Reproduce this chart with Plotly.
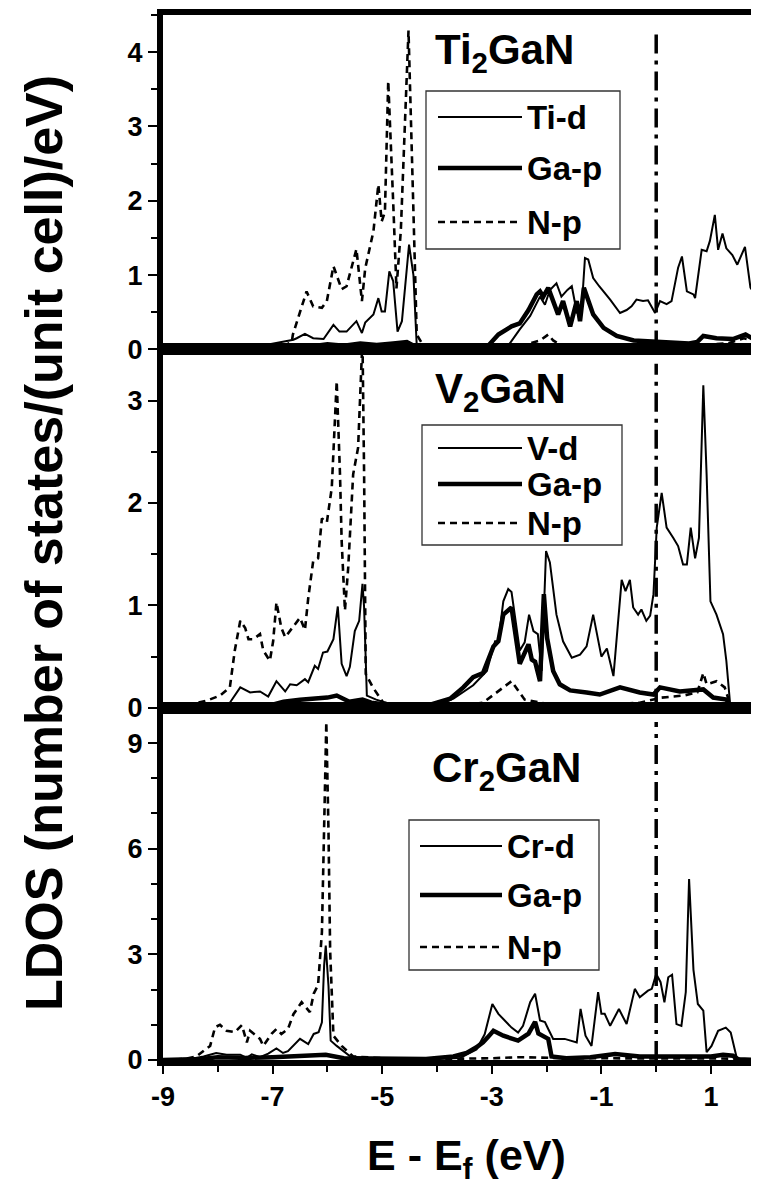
import plotly.graph_objects as go

# ---------------- data ----------------
# Ti2GaN
ti_d_E = [-9.0, -8.0, -7.5, -7.2, -6.9, -6.62, -6.56, -6.41, -6.26, -6.07, -5.89, -5.78, -5.65, -5.47, -5.37, -5.31,
          -5.16, -5.07, -5.01, -4.95, -4.87, -4.80, -4.72, -4.64, -4.51, -4.43, -4.37, -4.2, -3.8, -3.2, -2.73, -2.49,
          -2.30, -2.12, -2.03, -1.94, -1.82, -1.73, -1.62, -1.54, -1.45, -1.36, -1.30, -1.24, -1.15, -1.04, -0.84,
          -0.66, -0.54, -0.45, -0.36, -0.24, -0.15, -0.02, 0.07, 0.19, 0.28, 0.40, 0.47, 0.56, 0.68, 0.71, 0.83,
          0.92, 0.98, 1.07, 1.13, 1.21, 1.28, 1.39, 1.48, 1.62, 1.72, 1.77, 1.876]
ti_d_dos = [0.0, 0.01, 0.02, 0.05, 0.09, 0.13, 0.15, 0.21, 0.15, 0.14, 0.33, 0.24, 0.24, 0.38, 0.22, 0.36,
            0.47, 0.69, 0.51, 0.51, 1.05, 0.92, 0.24, 0.38, 1.41, 1.0, 0.06, 0.02, 0.01, 0.01, 0.02, 0.27,
            0.45, 0.71, 0.60, 0.80, 0.89, 0.71, 0.80, 0.85, 0.50, 0.55, 1.23, 1.21, 0.96, 0.85, 0.67,
            0.49, 0.53, 0.58, 0.67, 0.65, 0.66, 0.49, 0.65, 0.61, 0.65, 1.10, 1.25, 0.78, 0.74, 0.69, 1.34,
            1.32, 1.46, 1.81, 1.34, 1.56, 1.36, 1.27, 1.14, 1.38, 0.83, 0.78, 0.25]

ti_ga_E = [-9.0, -8.0, -7.0, -6.6, -6.3, -6.0, -5.7, -5.4, -5.1, -4.8, -4.55, -4.4, -4.2, -3.6, -3.09, -2.88,
           -2.64, -2.49, -2.33, -2.18, -2.12, -2.06, -1.97, -1.88, -1.79, -1.70, -1.57, -1.45, -1.39, -1.32, -1.28,
           -1.15, -0.96, -0.72, -0.41, -0.05, 0.3, 0.6, 0.75, 0.86, 1.1, 1.4, 1.63, 1.876]
ti_ga_dos = [0.0, 0.01, 0.02, 0.05, 0.04, 0.07, 0.05, 0.08, 0.06, 0.08, 0.10, 0.04, 0.01, 0.01, 0.03, 0.20,
             0.31, 0.35, 0.53, 0.74, 0.78, 0.71, 0.83, 0.65, 0.47, 0.65, 0.31, 0.65, 0.38, 0.83, 0.75,
             0.47, 0.29, 0.18, 0.12, 0.11, 0.10, 0.08, 0.10, 0.18, 0.15, 0.14, 0.20, 0.10]

ti_np_E = [-9.0, -7.5, -6.8, -6.65, -6.63, -6.38, -6.26, -6.10, -6.01, -5.89, -5.74, -5.65, -5.47, -5.37, -5.31,
           -5.16, -5.07, -5.01, -4.95, -4.89, -4.80, -4.74, -4.66, -4.58, -4.52, -4.43, -4.37, -4.25, -3.5, -2.8,
           -2.46, -2.12, -1.97, -1.88, -1.7, -1.2, -0.5, 0.0, 0.5, 0.9, 1.3, 1.6, 1.876]
ti_np_dos = [0.0, 0.01, 0.05, 0.10, 0.20, 0.78, 0.58, 0.56, 0.65, 1.12, 0.81, 0.85, 1.35, 0.65, 1.09,
             1.59, 2.22, 1.72, 1.85, 3.61, 1.99, 0.82, 1.6, 3.0, 4.29, 1.86, 0.20, 0.05, 0.01, 0.02,
             0.05, 0.12, 0.20, 0.12, 0.04, 0.03, 0.02, 0.03, 0.05, 0.06, 0.08, 0.15, 0.10]

# V2GaN
v_d_E = [-9.0, -8.2, -7.78, -7.59, -7.41, -7.23, -7.08, -6.93, -6.77, -6.68, -6.56, -6.41, -6.35, -6.23, -6.17,
         -6.08, -6.0, -5.89, -5.81, -5.74, -5.65, -5.59, -5.50, -5.42, -5.36, -5.33, -5.28, -5.11, -4.93, -4.5,
         -4.0, -3.70, -3.34, -3.09, -2.94, -2.88, -2.79, -2.70, -2.64, -2.49, -2.40, -2.32, -2.24, -2.16, -2.09,
         -2.01, -1.94, -1.82, -1.70, -1.54, -1.39, -1.27, -1.15, -1.06, -1.00, -0.90, -0.78, -0.63, -0.56, -0.48,
         -0.42, -0.33, -0.27, -0.18, -0.11, -0.05, 0.01, 0.10, 0.19, 0.31, 0.40, 0.49, 0.56, 0.63, 0.71, 0.78,
         0.86, 0.92, 0.99, 1.10, 1.22, 1.28, 1.35, 1.5, 1.876]
v_d_dos = [0.0, 0.01, 0.05, 0.20, 0.15, 0.16, 0.11, 0.26, 0.16, 0.23, 0.22, 0.28, 0.25, 0.41, 0.38,
           0.54, 0.55, 0.67, 0.99, 0.43, 0.31, 0.40, 0.75, 0.85, 1.21, 0.98, 0.12, 0.08, 0.05, 0.03,
           0.02, 0.09, 0.22, 0.36, 0.65, 0.65, 1.04, 1.16, 1.13, 0.56, 0.64, 0.91, 0.75, 0.72, 0.36,
           1.53, 1.42, 0.91, 0.65, 0.49, 0.52, 0.60, 0.91, 0.65, 0.50, 0.58, 0.31, 1.25, 1.14, 1.25,
           0.98, 0.91, 0.96, 0.85, 0.90, 1.11, 1.76, 2.10, 1.76, 1.66, 1.58, 1.40, 1.40, 1.76, 1.46, 1.66,
           3.15, 2.28, 1.04, 0.91, 0.72, 0.46, 0.03, 0.0, 0.0]

v_ga_E = [-9.0, -8.0, -7.5, -7.0, -6.8, -6.5, -6.2, -6.0, -5.83, -5.6, -5.36, -5.2, -4.9, -4.2, -3.76, -3.52,
          -3.34, -3.16, -2.97, -2.88, -2.79, -2.64, -2.49, -2.33, -2.27, -2.21, -2.12, -2.05, -1.99, -1.88, -1.76,
          -1.57, -1.27, -1.03, -0.66, -0.30, -0.05, 0.07, 0.43, 0.86, 1.04, 1.28, 1.34, 1.5, 1.876]
v_ga_dos = [0.0, 0.01, 0.01, 0.03, 0.06, 0.08, 0.09, 0.10, 0.12, 0.06, 0.08, 0.05, 0.03, 0.02, 0.09, 0.20,
            0.30, 0.34, 0.60, 0.65, 0.91, 0.98, 0.43, 0.62, 0.47, 0.45, 0.26, 1.11, 0.68, 0.36, 0.23,
            0.17, 0.15, 0.13, 0.20, 0.15, 0.13, 0.20, 0.16, 0.18, 0.10, 0.08, 0.02, 0.0, 0.0]

v_np_E = [-9.0, -8.6, -8.2, -7.96, -7.78, -7.69, -7.59, -7.50, -7.44, -7.35, -7.23, -7.17, -7.05, -6.99, -6.93,
          -6.84, -6.77, -6.65, -6.50, -6.41, -6.35, -6.26, -6.17, -6.10, -6.01, -5.92, -5.83, -5.77, -5.74, -5.68,
          -5.62, -5.53, -5.44, -5.36, -5.33, -5.30, -5.17, -4.98, -4.5, -3.6, -3.16, -2.64, -2.4, -2.0, -1.0, -0.3,
          0.1, 0.5, 0.75, 0.86, 0.92, 1.1, 1.25, 1.34, 1.5, 1.876]
v_np_dos = [0.0, 0.02, 0.07, 0.12, 0.20, 0.56, 0.85, 0.78, 0.67, 0.67, 0.72, 0.56, 0.46, 0.65, 1.03,
            0.78, 0.69, 0.77, 0.88, 0.76, 1.07, 1.43, 1.46, 1.85, 1.81, 2.15, 3.19, 2.28, 1.63, 0.95,
            1.37, 2.28, 2.54, 3.60, 2.28, 0.33, 0.20, 0.05, 0.02, 0.02, 0.05, 0.26, 0.08, 0.04, 0.03, 0.05,
            0.10, 0.12, 0.15, 0.34, 0.23, 0.26, 0.20, 0.05, 0.0, 0.0]

# Cr2GaN
cr_d_E = [-9.0, -8.5, -8.26, -8.03, -7.84, -7.59, -7.47, -7.38, -7.23, -7.08, -6.93, -6.81, -6.72, -6.50, -6.35,
          -6.25, -6.16, -6.10, -6.06, -6.03, -5.98, -5.94, -5.83, -5.58, -5.0, -4.2, -3.58, -3.28, -3.13, -2.99,
          -2.88, -2.76, -2.64, -2.52, -2.43, -2.30, -2.21, -2.12, -2.03, -1.97, -1.88, -1.67, -1.45, -1.38, -1.29,
          -1.18, -1.06, -1.00, -0.94, -0.84, -0.68, -0.54, -0.39, -0.30, -0.15, -0.08, 0.0, 0.08, 0.15, 0.22,
          0.29, 0.37, 0.46, 0.54, 0.60, 0.68, 0.76, 0.86, 0.92, 1.01, 1.13, 1.27, 1.36, 1.47, 1.6, 1.876]
cr_d_dos = [0.0, 0.03, 0.10, 0.20, 0.15, 0.15, 0.06, 0.16, 0.08, 0.18, 0.33, 0.20, 0.25, 0.60, 0.45,
            0.74, 0.79, 1.07, 2.68, 3.25, 2.10, 0.55, 0.40, 0.10, 0.03, 0.02, 0.06, 0.30, 0.73, 1.59,
            1.31, 1.12, 0.92, 0.78, 0.97, 1.64, 1.88, 1.12, 1.08, 0.88, 0.60, 0.60, 0.50, 1.45, 0.69,
            0.40, 1.93, 1.31, 1.31, 0.97, 1.45, 1.02, 2.02, 1.78, 1.97, 2.02, 2.44, 2.21, 1.64, 2.35,
            2.42, 1.02, 0.97, 1.93, 5.14, 2.56, 1.59, 1.40, 0.22, 0.40, 0.83, 0.92, 0.78, 0.06, 0.0, 0.0]

cr_ga_E = [-9.0, -8.3, -8.0, -7.5, -7.0, -6.5, -6.03, -5.7, -5.0, -4.2, -3.70, -3.46, -3.28, -3.16, -3.07, -2.97,
           -2.79, -2.52, -2.33, -2.21, -2.15, -2.03, -1.97, -1.91, -1.64, -1.2, -0.75, -0.3, 0.2, 0.6, 1.0, 1.22,
           1.4, 1.5, 1.876]
cr_ga_dos = [0.0, 0.03, 0.08, 0.06, 0.08, 0.10, 0.15, 0.05, 0.03, 0.03, 0.10, 0.20, 0.36, 0.50, 0.65, 0.83,
             0.69, 0.55, 0.75, 1.08, 0.75, 0.65, 0.60, 0.10, 0.05, 0.08, 0.17, 0.10, 0.10, 0.12, 0.10, 0.15,
             0.12, 0.02, 0.0]

cr_np_E = [-9.0, -8.6, -8.39, -8.14, -8.05, -7.96, -7.84, -7.69, -7.56, -7.47, -7.41, -7.23, -7.17, -7.02, -6.93,
           -6.84, -6.72, -6.62, -6.47, -6.32, -6.25, -6.17, -6.10, -6.07, -6.04, -6.02, -5.98, -5.95, -5.89, -5.74,
           -5.53, -5.0, -4.0, -3.0, -2.5, -1.5, -0.5, 0.5, 1.0, 1.4, 1.876]
cr_np_dos = [0.0, 0.03, 0.10, 0.40, 0.93, 1.00, 0.83, 0.79, 0.99, 0.50, 0.83, 0.60, 0.40, 0.74, 0.88,
             0.74, 0.88, 1.30, 1.64, 1.36, 1.88, 2.13, 3.63, 6.47, 8.07, 9.60, 6.50, 3.10, 0.69, 0.40,
             0.10, 0.05, 0.03, 0.05, 0.08, 0.05, 0.05, 0.06, 0.05, 0.04, 0.0]

panel_names = ["Ti<sub>2</sub>GaN", "V<sub>2</sub>GaN", "Cr<sub>2</sub>GaN"]
legend_labels = [["Ti-d", "Ga-p", "N-p"], ["V-d", "Ga-p", "N-p"], ["Cr-d", "Ga-p", "N-p"]]
y_ranges = [[0, 4.5], [0, 3.5], [0, 10]]
y_dticks = [1, 1, 3]
y_minor = [0.5, 0.5, 1]
x_range = [-9, 1.876]
x_ticks = [-9, -7, -5, -3, -1, 1]
fermi_E = 0.0

panels = [
    [(ti_d_E, ti_d_dos), (ti_ga_E, ti_ga_dos), (ti_np_E, ti_np_dos)],
    [(v_d_E, v_d_dos), (v_ga_E, v_ga_dos), (v_np_E, v_np_dos)],
    [(cr_d_E, cr_d_dos), (cr_ga_E, cr_ga_dos), (cr_np_E, cr_np_dos)],
]

# ---------------- styling ----------------
# the page body has an 8px margin, so the figure is 8px smaller than the window
OFF = 8
W, H = 759 - OFF, 1189 - OFF
PLOT_L, PLOT_T, PLOT_B = 163, 15, 1060        # plot area edges in window pixels
L, T = PLOT_L - OFF, PLOT_T - OFF
B = 1189 - PLOT_B
R = 0
PW, PH = W - L - R, H - T - B
FONT = "Liberation Sans, Arial, sans-serif"
line_styles = [dict(color="black", width=2), dict(color="black", width=4.5),
               dict(color="black", width=2.6, dash="7px,5px")]
domains = [[0.680, 1.0], [0.337, 0.680], [0.0, 0.337]]


def pxx(X):
    return (X - PLOT_L) / PW


def pxy(Y):
    return (PLOT_B - Y) / PH


fig = go.Figure()
for i, series in enumerate(panels):
    xa = "x" if i == 0 else f"x{i+1}"
    ya = "y" if i == 0 else f"y{i+1}"
    for j, (e, d) in enumerate(series):
        fig.add_trace(go.Scatter(x=e, y=d, mode="lines", line=line_styles[j], xaxis=xa, yaxis=ya,
                                 name=legend_labels[i][j], showlegend=False, hoverinfo="skip"))

layout = dict(width=W, height=H, margin=dict(l=L, r=R, t=T, b=B, autoexpand=False), paper_bgcolor="white",
              plot_bgcolor="white", showlegend=False, font=dict(family=FONT, color="black"))
for i in range(3):
    xk = "xaxis" if i == 0 else f"xaxis{i+1}"
    yk = "yaxis" if i == 0 else f"yaxis{i+1}"
    yname = "y" if i == 0 else f"y{i+1}"
    xname = "x" if i == 0 else f"x{i+1}"
    last = i == 2
    layout[xk] = dict(domain=[0, 1], range=x_range, anchor=yname, showgrid=False, zeroline=False,
                      showline=True, linewidth=6, linecolor="black", mirror=True,
                      ticks="outside" if last else "", ticklen=8, tickwidth=1.5, tickcolor="black",
                      tickmode="array", tickvals=x_ticks, ticktext=[str(t) for t in x_ticks],
                      showticklabels=last,
                      tickfont=dict(family=FONT, size=27, weight="bold", color="black"),
                      minor=dict(ticks="outside" if last else "", dtick=1, tick0=-9, ticklen=6,
                                 tickwidth=1.5, tickcolor="black"))
    if i < 2:
        layout[xk]["matches"] = "x3"
    layout[yk] = dict(domain=domains[i], range=y_ranges[i], anchor=xname, showgrid=False, zeroline=False,
                      showline=True, linewidth=6, linecolor="black",
                      ticks="outside", ticklen=9, tickwidth=1.5, tickcolor="black",
                      dtick=y_dticks[i], tick0=0,
                      tickfont=dict(family=FONT, size=27, weight="bold", color="black"),
                      minor=dict(ticks="outside", dtick=y_minor[i], ticklen=6, tickwidth=1.5,
                                 tickcolor="black"))
fig.update_layout(**layout)

shapes = []
annotations = []
# Fermi level lines
for i in range(3):
    xname = "x" if i == 0 else f"x{i+1}"
    yname = "y" if i == 0 else f"y{i+1}"
    shapes.append(dict(type="line", xref=xname, yref=f"{yname} domain", x0=fermi_E, x1=fermi_E,
                       y0=0, y1=0.96, line=dict(color="black", width=3.5, dash="19px,7px,4px,7px")))

# custom legends (window-pixel boxes)
legend_boxes = [(426, 91, 620, 249), (422, 425, 622, 545), (409, 820, 599, 970)]
legend_rows = [(117, 168, 222), (448, 484, 523), (846, 895, 947)]
legend_sample_x = [(438, 522), (438, 522), (420, 502)]
for i in range(3):
    x0, y0, x1, y1 = legend_boxes[i]
    shapes.append(dict(type="rect", xref="paper", yref="paper", x0=pxx(x0), x1=pxx(x1), y0=pxy(y1), y1=pxy(y0),
                       line=dict(color="#333333", width=1.3), fillcolor="white", layer="below"))
    sx0, sx1 = legend_sample_x[i]
    for j, ry in enumerate(legend_rows[i]):
        ls = line_styles[j]
        shapes.append(dict(type="line", xref="paper", yref="paper", x0=pxx(sx0), x1=pxx(sx1),
                           y0=pxy(ry), y1=pxy(ry), line=ls))
        annotations.append(dict(text=f"<b>{legend_labels[i][j]}</b>", xref="paper", yref="paper",
                                x=pxx(sx1 + 3), y=pxy(ry), xanchor="left", yanchor="middle", showarrow=False,
                                font=dict(family=FONT, size=33, color="black")))

title_pos = [(433, 52), (433, 392), (430, 770)]
for i in range(3):
    tx, ty = title_pos[i]
    annotations.append(dict(text=f"<b>{panel_names[i]}</b>", xref="paper", yref="paper", x=pxx(tx), y=pxy(ty),
                            xanchor="left", yanchor="middle", showarrow=False,
                            font=dict(family=FONT, size=42, color="black")))

annotations.append(dict(text="<b>LDOS (number of states/(unit cell)/eV)</b>", xref="paper", yref="paper",
                        x=pxx(44), y=pxy(543), textangle=-90, showarrow=False, xanchor="center",
                        yanchor="middle", font=dict(family=FONT, size=52, color="black")))
annotations.append(dict(text="<b>E - E<sub>f</sub> (eV)</b>", xref="paper", yref="paper",
                        x=pxx(466), y=pxy(1158), showarrow=False, xanchor="center", yanchor="middle",
                        font=dict(family=FONT, size=43, color="black")))

fig.update_layout(shapes=shapes, annotations=annotations)
fig.write_html("out.html")
